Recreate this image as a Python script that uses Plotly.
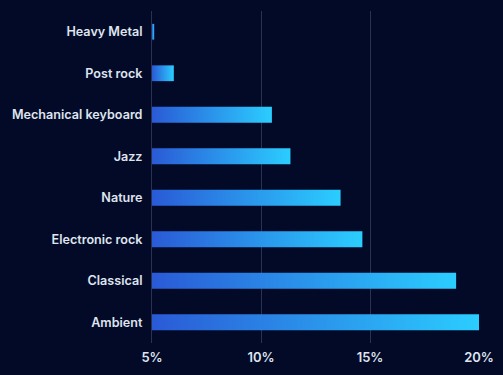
import plotly.graph_objects as go

categories = ["Ambient", "Classical", "Electronic rock", "Nature", "Jazz",
              "Mechanical keyboard", "Post rock", "Heavy Metal"]
values = [20.0, 18.95, 14.65, 13.65, 11.35, 10.5, 6.0, 5.1]
x_ticks = [5, 10, 15, 20]
x_tick_labels = ["5%", "10%", "15%", "20%"]

BG = "#020a28"
GRID = "#2a3252"
TEXT = "#dfe4ee"
BASE = 5
HALF = 0.19

fig = go.Figure()
for i, (cat, v) in enumerate(zip(categories, values)):
    fig.add_trace(go.Scatter(
        x=[BASE, v, v, BASE, BASE],
        y=[i - HALF, i - HALF, i + HALF, i + HALF, i - HALF],
        mode="lines",
        line=dict(width=0),
        fill="toself",
        fillgradient=dict(type="horizontal",
                          colorscale=[[0, "#2a5ad6"], [1, "#2bcdff"]]),
        name=cat,
        hovertemplate=f"{cat}: {v}%<extra></extra>",
        showlegend=False,
    ))

fig.update_layout(
    width=503, height=375,
    paper_bgcolor=BG, plot_bgcolor=BG,
    margin=dict(l=152, r=24, t=11, b=32),
    font=dict(family="Inter", color=TEXT, size=12.6),
    xaxis=dict(range=[5, 20], tickvals=x_ticks, ticktext=x_tick_labels,
               showgrid=True, gridcolor=GRID, gridwidth=1, zeroline=False,
               showline=False, ticklabelstandoff=5, automargin=False,
               tickfont=dict(size=13, color=TEXT, weight=600),
               fixedrange=True),
    yaxis=dict(range=[-0.5, len(categories) - 0.5],
               tickvals=list(range(len(categories))), ticktext=categories,
               showgrid=False, zeroline=False,
               showline=True, linecolor=GRID, linewidth=1,
               ticklabelstandoff=6, automargin=False,
               tickfont=dict(size=12.6, color=TEXT, weight=600),
               fixedrange=True),
)

fig.write_html("out.html",
               config={"displayModeBar": False},
               post_script="document.body.style.margin='0';"
                           "document.body.style.background='#020a28';")
